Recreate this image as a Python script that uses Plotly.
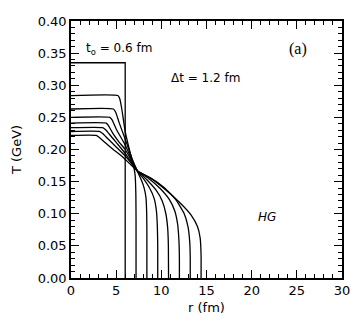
import plotly.graph_objects as go

# temperature profiles T(r) at t = 0.6, 1.8, ..., 9.0 fm (dt = 1.2 fm)
r_06 = [0, 6.0, 6.0]
T_06 = [0.335, 0.335, 0.0]

r_18 = [0, 5.2, 5.4, 5.6, 6.0, 6.5, 6.9, 7.1, 7.18, 7.2, 7.2]
T_18 = [0.284, 0.284, 0.279, 0.265, 0.228, 0.198, 0.176, 0.160, 0.13, 0.09, 0.0]

r_30 = [0, 4.7, 4.95, 5.3, 6.0, 6.7, 7.35, 7.8, 8.1, 8.3, 8.38, 8.4, 8.4]
T_30 = [0.263, 0.263, 0.258, 0.243, 0.216, 0.188, 0.166, 0.152, 0.140, 0.125, 0.10, 0.07, 0.0]

r_42 = [0, 4.3, 4.55, 5.0, 6.0, 6.7, 7.35, 8.0, 8.7, 9.2, 9.45, 9.56, 9.6, 9.6]
T_42 = [0.250, 0.250, 0.246, 0.232, 0.207, 0.185, 0.166, 0.155, 0.140, 0.124, 0.105, 0.08, 0.05, 0.0]

r_54 = [0, 3.9, 4.15, 4.6, 5.3, 6.0, 6.7, 7.4, 8.4, 9.4, 10.1, 10.5, 10.7, 10.78, 10.8]
T_54 = [0.241, 0.241, 0.237, 0.226, 0.212, 0.200, 0.183, 0.166, 0.153, 0.137, 0.120, 0.100, 0.078, 0.05, 0.0]

r_66 = [0, 3.5, 3.8, 4.3, 5.0, 6.0, 6.7, 7.4, 8.6, 9.9, 10.9, 11.5, 11.8, 11.95, 12.0, 12.0]
T_66 = [0.234, 0.234, 0.231, 0.223, 0.211, 0.194, 0.180, 0.166, 0.155, 0.139, 0.122, 0.104, 0.084, 0.058, 0.03, 0.0]

r_78 = [0, 3.2, 3.5, 4.0, 5.0, 6.0, 6.7, 7.4, 8.8, 10.3, 11.6, 12.5, 12.95, 13.15, 13.2, 13.2]
T_78 = [0.228, 0.228, 0.225, 0.218, 0.204, 0.190, 0.178, 0.166, 0.156, 0.141, 0.122, 0.101, 0.080, 0.055, 0.03, 0.0]

r_90 = [0, 2.8, 3.1, 3.6, 4.5, 5.5, 6.5, 7.4, 8.5, 10.0, 12.0, 13.3, 14.0, 14.3, 14.4, 14.4]
T_90 = [0.222, 0.222, 0.219, 0.213, 0.202, 0.191, 0.178, 0.166, 0.158, 0.143, 0.118, 0.098, 0.080, 0.062, 0.035, 0.0]

profiles = [(r_18, T_18), (r_30, T_30), (r_42, T_42),
            (r_54, T_54), (r_66, T_66), (r_78, T_78), (r_90, T_90)]

fig = go.Figure()
# initial step profile
fig.add_trace(go.Scatter(x=r_06, y=T_06, mode="lines",
                         line=dict(color="black", width=1.3), showlegend=False))
for r, T in profiles:
    fig.add_trace(go.Scatter(x=r, y=T, mode="lines",
                             line=dict(color="black", width=1.3, shape="spline", smoothing=0.45),
                             showlegend=False))

font = dict(family="DejaVu Sans", size=13, color="black")
axis = dict(showline=True, linecolor="black", linewidth=1.5, mirror="allticks",
            ticks="inside", ticklen=8, tickwidth=1.2, tickcolor="black",
            showgrid=False, zeroline=False, tickfont=font)

fig.update_xaxes(range=[0, 30], dtick=5,
                 minor=dict(dtick=1, ticks="inside", ticklen=4, tickcolor="black"),
                 title=dict(text="r (fm)", font=font, standoff=6), **axis)
fig.update_yaxes(range=[0, 0.4], dtick=0.05, tickformat=".2f",
                 minor=dict(dtick=0.01, ticks="inside", ticklen=4, tickcolor="black"),
                 title=dict(text="T (GeV)", font=font, standoff=13), **axis)

fig.add_annotation(x=1.4, y=0.357, text="t<sub>o</sub> = 0.6 fm", showarrow=False,
                   xanchor="left", font=dict(family="DejaVu Sans", size=12, color="black"))
fig.add_annotation(x=10.9, y=0.312, text="\u0394t = 1.2 fm", showarrow=False,
                   xanchor="left", font=dict(family="DejaVu Sans", size=12, color="black"))
fig.add_annotation(x=23.9, y=0.357, text="(a)", showarrow=False,
                   xanchor="left", font=dict(family="Liberation Serif", size=16, color="black"))
fig.add_annotation(x=20.5, y=0.095, text="<i>HG</i>", showarrow=False,
                   xanchor="left", font=dict(family="DejaVu Sans", size=12, color="black"))

# page body adds an 8px margin, so keep the figure inside the window
fig.update_layout(width=348, height=311,
                  margin=dict(l=63, r=10, t=6, b=35),
                  plot_bgcolor="white", paper_bgcolor="white")

fig.write_html("out.html")
